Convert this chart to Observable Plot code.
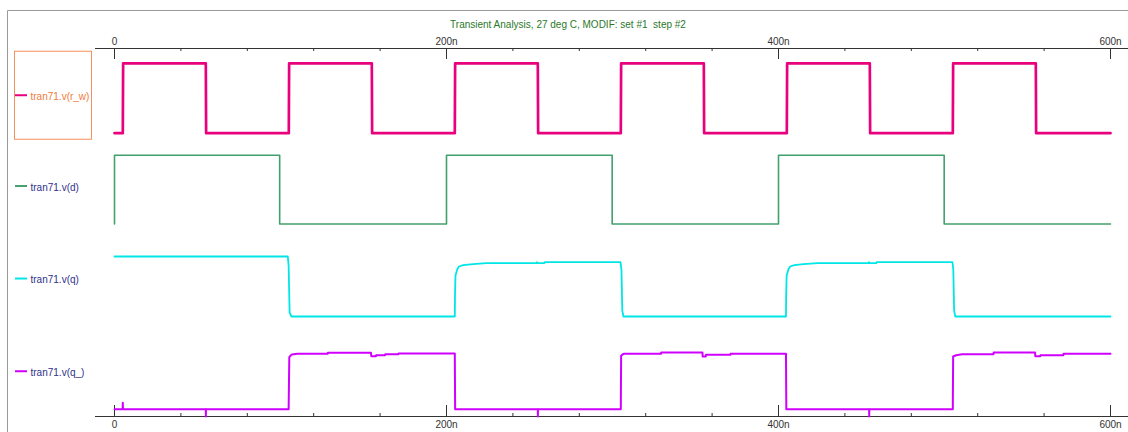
<!DOCTYPE html>
<html><head><meta charset="utf-8">
<script src="https://cdn.jsdelivr.net/npm/d3@7"></script>
<script src="https://cdn.jsdelivr.net/npm/@observablehq/plot@0.6"></script>
<style>
html,body{margin:0;padding:0;background:#fff;}
#chart svg{display:block;}
</style></head><body><div id="chart"></div>
<script>
// ---- data ----
const titleText = "Transient Analysis, 27 deg C, MODIF: set #1  step #2";
const signalNames = ["tran71.v(r_w)", "tran71.v(d)", "tran71.v(q)", "tran71.v(q_)"];
const majorTicks = [0, 200, 400, 600];
const majorTickLabels = ["0", "200n", "400n", "600n"];
const minorTicks = [40, 80, 120, 160, 240, 280, 320, 360, 440, 480, 520, 560];

// time in ns, voltage in V
const rwTime = [0, 5, 5.2, 55, 55.2, 105, 105.2, 155, 155.2, 205, 205.2, 255, 255.2, 305, 305.2, 355, 355.2, 405, 405.2, 455, 455.2, 505, 505.2, 555, 555.2, 600];
const rwVolt = [0, 0, 1.8, 1.8, 0, 0, 1.8, 1.8, 0, 0, 1.8, 1.8, 0, 0, 1.8, 1.8, 0, 0, 1.8, 1.8, 0, 0, 1.8, 1.8, 0, 0];

const dTime = [0, 0, 99.5, 99.5, 200, 200, 299.8, 299.8, 400, 400, 499.8, 499.8, 600];
const dVolt = [0, 1.77, 1.77, 0, 0, 1.77, 1.77, 0, 0, 1.77, 1.77, 0, 0];

const qTime = [0, 104.4, 104.9, 105.5, 106.6, 205, 205.1, 205.4, 206.5, 207.5, 210, 216, 224, 254.3, 254.5, 254.8, 259, 259.1, 304.8, 305.4, 305.9, 306.6, 404.5, 404.6, 404.9, 406, 407, 409.5, 415, 423.7, 454.3, 454.5, 454.8, 459, 459.1, 504.8, 505.3, 505.8, 506.5, 600];
const qVolt = [1.546, 1.546, 1.3, 0.1, 0, 0, 0.5, 1.057, 1.22, 1.289, 1.322, 1.348, 1.374, 1.374, 1.40, 1.374, 1.374, 1.399, 1.399, 1.2, 0.15, 0, 0, 0.5, 1.057, 1.22, 1.289, 1.322, 1.348, 1.374, 1.374, 1.40, 1.374, 1.374, 1.399, 1.399, 1.2, 0.15, 0, 0];

const qbTime = [0, 4.9, 5, 5.1, 55, 55.05, 55.1, 104.9, 105.3, 106.2, 106.9, 110.2, 128.4, 128.5, 154.5, 154.7, 157.5, 157.6, 163, 163.1, 171, 171.1, 205, 205.2, 255, 255.05, 255.1, 305, 305.2, 306, 307, 329.2, 329.3, 354.2, 354.3, 356.2, 356.3, 371, 371.1, 404.5, 404.7, 454.6, 454.65, 454.7, 505, 505.2, 507, 510.6, 529.5, 529.6, 554.6, 554.7, 557.7, 557.8, 571.6, 571.7, 600];
const qbVolt = [0, 0, 0.165, 0, 0, -0.19, 0, 0, 1.34, 1.39, 1.41, 1.428, 1.428, 1.454, 1.454, 1.366, 1.366, 1.392, 1.392, 1.418, 1.418, 1.436, 1.436, 0, 0, -0.19, 0, 0, 1.38, 1.41, 1.428, 1.428, 1.461, 1.461, 1.358, 1.358, 1.402, 1.402, 1.428, 1.428, 0, 0, -0.19, 0, 0, 1.358, 1.39, 1.418, 1.418, 1.461, 1.461, 1.366, 1.366, 1.392, 1.392, 1.428, 1.428];

// ---- layout / style ----
const signalColors = ["#e8007c", "#41a06e", "#00e6e6", "#d000ff"];
const signalWidths = [2.7, 1.6, 1.8, 2];
const laneOffset = [7.113, 4.773, 2.389, 0];   // vertical lane offset (V)
const laneCenter = 0.94;                        // label position inside a lane (V)
const labelColors = ["#f07a3c", "#30308c", "#30308c", "#30308c"];

const series = [
  {time: rwTime, volt: rwVolt},
  {time: dTime, volt: dVolt},
  {time: qTime, volt: qVolt},
  {time: qbTime, volt: qbVolt}
];

const rows = series.map((s, i) => s.time.map((t, j) => ({lane: i, t, v: s.volt[j] + laneOffset[i]})));
const legendRows = signalNames.map((name, i) => ({lane: i, name, y: laneOffset[i] + laneCenter}));

const W = 1128, H = 432;
const mLeft = 95, mTop = 48, mBottom = 16;
const innerH = H - mTop - mBottom;
const fmt = d => majorTickLabels[majorTicks.indexOf(d)];

const marks = [
  Plot.ruleY([-0.188], {stroke: "#333", strokeWidth: 1}),
  Plot.ruleY([9.296], {stroke: "#333", strokeWidth: 1}),
  Plot.ruleX(majorTicks, {stroke: "#333", insetBottom: innerH - 11}),
  Plot.ruleX(minorTicks, {stroke: "#333", insetBottom: innerH - 3}),
  Plot.ruleX(majorTicks, {stroke: "#333", insetTop: innerH - 11}),
  Plot.ruleX(minorTicks, {stroke: "#333", insetTop: innerH - 3}),
  Plot.axisX({anchor: "top", ticks: majorTicks, tickSize: 0, tickPadding: 4, tickFormat: fmt, label: null, fontSize: 10, fill: "#333"}),
  Plot.axisX({anchor: "bottom", ticks: majorTicks, tickSize: 0, tickPadding: 4, tickFormat: fmt, label: null, fontSize: 10, fill: "#333"}),
  ...rows.map((r, i) => Plot.line(r, {x: "t", y: "v", stroke: signalColors[i], strokeWidth: signalWidths[i], strokeLinejoin: "round"})),
  Plot.text(legendRows, {frameAnchor: "left", y: "y", text: "name", dx: -65, textAnchor: "start", fill: d => labelColors[d.lane], fontSize: 10})
];

const plot = Plot.plot({
  width: W, height: H,
  marginLeft: mLeft, marginRight: 0, marginTop: mTop, marginBottom: mBottom,
  style: {fontFamily: "'Liberation Sans', Arial, sans-serif", fontSize: "10px", background: "#fff"},
  x: {domain: [-11.446, 610.84], axis: null},
  y: {domain: [-0.188, 9.296], axis: null},
  marks
});

// decorations: outer frame, title, legend swatches and selection box
const svg = d3.select(plot);
const ys = plot.scale("y");
svg.append("path").attr("d", `M7.5,${H}V10.5H${W}`).attr("fill", "none").attr("stroke", "#9a9a9a").attr("stroke-width", 1);
svg.append("text").attr("x", (8 + W) / 2).attr("y", 24).attr("dy", "0.35em")
  .attr("text-anchor", "middle").attr("fill", "#2a782a").attr("font-size", 10)
  .style("white-space", "pre").text(titleText);
legendRows.forEach(d => {
  const y = ys.apply(d.y);
  svg.append("line").attr("x1", 15).attr("x2", 27).attr("y1", y - 1).attr("y2", y - 1)
    .attr("stroke", signalColors[d.lane]).attr("stroke-width", 2);
  if (d.lane === 0) {
    svg.append("rect").attr("x", 14.5).attr("y", y - 45).attr("width", 77).attr("height", 88)
      .attr("fill", "none").attr("stroke", "#f4905c").attr("stroke-width", 1);
  }
});
document.getElementById("chart").append(plot);
</script></body></html>
